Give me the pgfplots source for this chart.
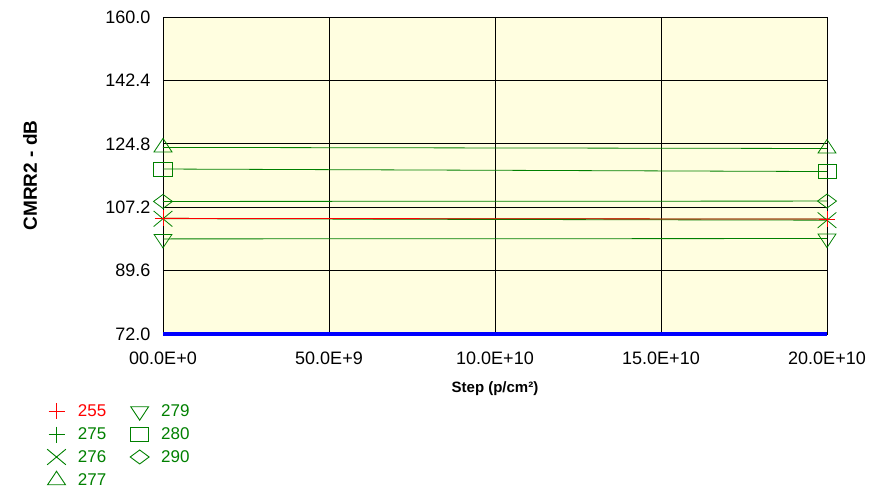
\documentclass[border=0pt]{standalone}
\usepackage{pgfplots}
\pgfplotsset{compat=1.18}
\usepackage{fontspec}
\setmainfont{Liberation Sans}
\definecolor{bgy}{RGB}{255,254,224}
\definecolor{dgreen}{RGB}{0,128,0}
\definecolor{myred}{RGB}{255,0,0}
\definecolor{myblue}{RGB}{0,0,255}
\begin{document}
\begin{tikzpicture}
\begin{axis}[
  name=main, at={(0,0)}, anchor=south west,
  scale only axis, width=664pt, height=317pt,
  xmin=0, xmax=20, ymin=72, ymax=160,
  axis background/.style={fill=bgy},
  axis line style={black, line width=0.8pt},
  xtick={0,5,10,15,20},
  xticklabels={00.0E+0,50.0E+9,10.0E+10,15.0E+10,20.0E+10},
  ytick={72,89.6,107.2,124.8,142.4,160},
  yticklabels={72.0,89.6,107.2,124.8,142.4,160.0},
  grid=major, grid style={black, line width=0.8pt},
  major tick length=0pt,
  tick label style={font=\fontsize{18}{20}\selectfont},
  xticklabel style={yshift=-14pt},
  yticklabel style={xshift=-9pt},
  xlabel={\textbf{Step (p/cm²)}},
  ylabel={\textbf{CMRR2 - dB}},
  xlabel style={font=\fontsize{15}{17}\selectfont, at={(axis description cs:0.5,-0.173)}, anchor=center},
  ylabel style={font=\fontsize{19}{21}\selectfont, at={(axis description cs:-0.2,0.5)}, anchor=center},
  clip=false,
  every axis plot/.append style={line width=0.8pt},
  every mark/.append style={solid},
  legend image code/.code={\path (0cm,0cm); \begin{scope}[#1]\draw[#1,line width=0.9pt,/tikz/only marks] plot coordinates {(0.3cm,0cm)};\end{scope}},
  legend columns=2,
  legend style={at={(axis description cs:0,0)}, anchor=north west, xshift=-119pt, yshift=-67pt,
    draw=none, fill=none, font=\fontsize{17}{19}\selectfont, row sep=6.5pt,
    /tikz/every odd column/.append style={column sep=11pt},
    /tikz/every even column/.append style={column sep=23pt},
    nodes={inner sep=1pt}},
]
\addlegendimage{color=myred, mark=+, mark size=8pt}
\addlegendentry[text=myred]{255}
\addlegendimage{color=dgreen, mark=triangle, mark size=9pt, mark options={rotate=180, xscale=1.15}}
\addlegendentry[text=dgreen]{279}
\addlegendimage{color=dgreen, mark=+, mark size=8pt}
\addlegendentry[text=dgreen]{275}
\addlegendimage{color=dgreen, mark=square, mark size=7pt, mark options={xscale=1.3}}
\addlegendentry[text=dgreen]{280}
\addlegendimage{color=dgreen, mark=x, mark size=11pt, mark options={xscale=1.2}}
\addlegendentry[text=dgreen]{276}
\addlegendimage{color=dgreen, mark=diamond, mark size=7pt, mark options={xscale=1.8}}
\addlegendentry[text=dgreen]{290}
\addlegendimage{color=dgreen, mark=triangle, mark size=9pt, mark options={xscale=1.15}}
\addlegendentry[text=dgreen]{277}
\addplot[myblue, line width=3.5pt, forget plot] coordinates {(0,72) (20,72)};
\addplot[dgreen, mark=+, mark size=8pt, forget plot] coordinates {(0,104.1) (20,103.9)};
\addplot[dgreen, mark=x, mark size=11pt, mark options={xscale=1.2}, forget plot] coordinates {(0,104.0) (20,103.6)};
\addplot[dgreen, mark=triangle, mark size=9pt, mark options={rotate=180, xscale=1.15}, forget plot] coordinates {(0,98.4) (20,98.5)};
\addplot[dgreen, mark=square, mark size=7pt, mark options={xscale=1.3}, forget plot] coordinates {(0,117.8) (20,117.1)};
\addplot[dgreen, mark=diamond, mark size=7pt, mark options={xscale=1.8}, forget plot] coordinates {(0,108.8) (20,108.9)};
\addplot[dgreen, mark=triangle, mark size=9pt, mark options={xscale=1.15}, forget plot] coordinates {(0,123.8) (20,123.5)};
\addplot[myred, mark=+, mark size=8pt, forget plot] coordinates {(0,104.1) (20,103.9)};
\end{axis}
\path[use as bounding box] (-163pt,-156pt) rectangle (721pt,334pt);
\end{tikzpicture}
\end{document}
